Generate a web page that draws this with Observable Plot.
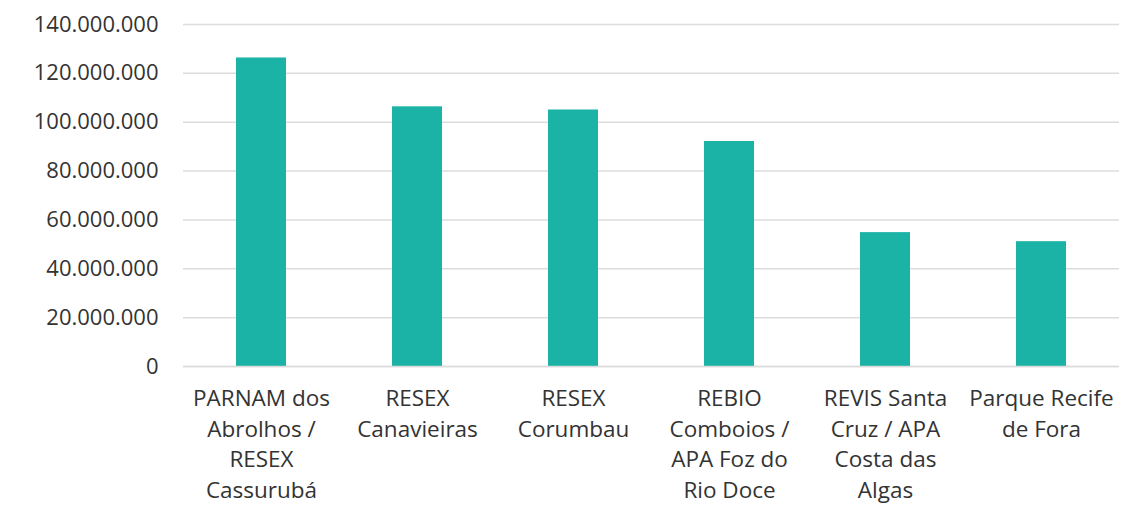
<!DOCTYPE html>
<html>
<head>
<meta charset="utf-8">
<script src="https://cdn.jsdelivr.net/npm/d3@7"></script>
<script src="https://cdn.jsdelivr.net/npm/@observablehq/plot@0.6"></script>
<style>
  html, body { margin: 0; padding: 0; background: #fff; }
  #chart { width: 1129px; height: 506px; }
</style>
</head>
<body>
<div id="chart"></div>
<script>
const categories = [
  "PARNAM dos\nAbrolhos /\nRESEX\nCassurubá",
  "RESEX\nCanavieiras",
  "RESEX\nCorumbau",
  "REBIO\nComboios /\nAPA Foz do\nRio Doce",
  "REVIS Santa\nCruz / APA\nCosta das\nAlgas",
  "Parque Recife\nde Fora"
];
const values = [126300000, 106300000, 105000000, 92100000, 54800000, 51100000];
const yTicks = [0, 20000000, 40000000, 60000000, 80000000, 100000000, 120000000, 140000000];

const data = categories.map((c, i) => ({category: c, value: values[i]}));
const locale = d3.formatLocale({decimal: ",", thousands: ".", grouping: [3], currency: ["R$", ""]});
const fmt = locale.format(",d");

const chart = Plot.plot({
  width: 1129,
  height: 506,
  marginLeft: 183,
  marginRight: 10,
  marginTop: 24,
  marginBottom: 140,
  style: {fontFamily: "'Open Sans', sans-serif", fontSize: "22px", color: "#333", background: "#fff"},
  x: {domain: categories, paddingInner: 0.68, paddingOuter: 0.34, label: null},
  y: {domain: [0, 140000000], label: null},
  marks: [
    Plot.gridY(yTicks, {stroke: "#dcdcdc", strokeOpacity: 1, strokeWidth: 1.5}),
    Plot.axisY(yTicks, {tickSize: 0, tickPadding: 25, tickFormat: fmt, fontSize: 22, fill: "#333"}),
    Plot.axisX({tickSize: 0, tickPadding: 18, lineHeight: 1.36, fontSize: 22.5, fill: "#333"}),
    Plot.barY(data, {x: "category", y: "value", fill: "#1ab3a6"}),
    Plot.ruleY([0], {stroke: "#dcdcdc", strokeWidth: 1.5})
  ]
});
document.getElementById("chart").appendChild(chart);
</script>
</body>
</html>
